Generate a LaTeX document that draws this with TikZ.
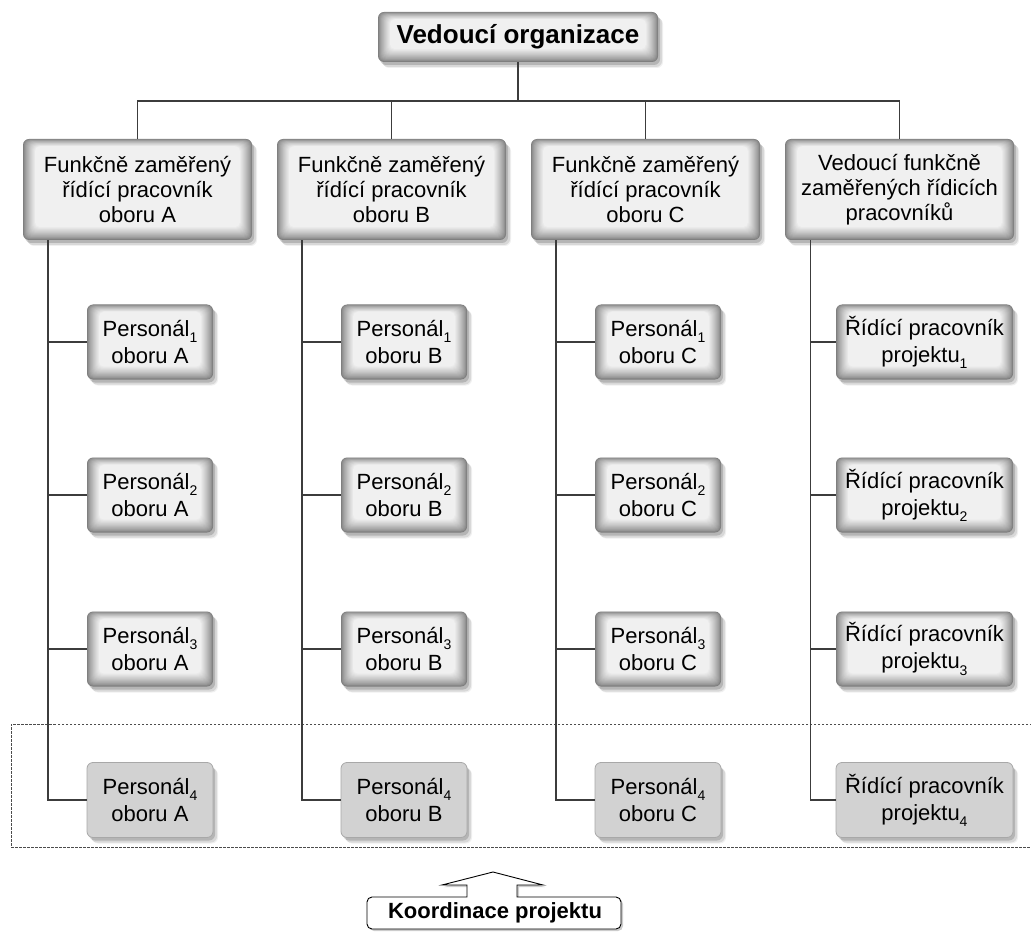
\documentclass[tikz,border=0pt]{standalone}
\usepackage{fontspec}
\setmainfont{Liberation Sans}
\usetikzlibrary{calc,shadows}

\definecolor{edgec}{HTML}{7E7E7E}
\definecolor{innerc}{HTML}{F0F0F0}
\definecolor{flatc}{HTML}{D2D2D2}
\definecolor{flatborder}{HTML}{A8A8A8}
\definecolor{linec}{HTML}{3C3C3C}

\newcommand\idx[1]{\raisebox{-0.28em}{\fontsize{14}{14}\selectfont #1}}

\tikzset{
  softshadow/.style={
    drop shadow={shadow xshift=2pt, shadow yshift=-3pt, opacity=0.16, fill=black},
    drop shadow={shadow xshift=4pt, shadow yshift=-5pt, opacity=0.10, fill=black},
    drop shadow={shadow xshift=5pt, shadow yshift=-6pt, opacity=0.06, fill=black}},
  bevel/.style={rounded corners=6pt, fill=edgec, inner sep=0pt, align=center,
    softshadow,
    path picture={
      \foreach \i in {1,...,16}{
        \pgfmathtruncatemacro\p{min(100,100*(\i/16)^0.75)}
        \fill[innerc!\p!edgec, rounded corners=5pt]
          ($(path picture bounding box.south west)+(\i*0.75pt,\i*0.8pt)$) rectangle
          ($(path picture bounding box.north east)+(-\i*0.75pt,-\i*0.45pt)$);
      }
    }},
  flat/.style={rounded corners=6pt, fill=flatc, draw=flatborder, line width=0.8pt,
    inner sep=0pt, align=center, softshadow},
  topbox/.style={bevel, minimum width=280pt, minimum height=50pt,
    font=\fontsize{26}{28}\bfseries\selectfont},
  headbox/.style={bevel, minimum width=229pt, minimum height=101pt,
    font=\fontsize{22}{25}\selectfont},
  staffbox/.style={minimum width=126pt, minimum height=75pt,
    font=\fontsize{22}{27}\selectfont},
  leadbox/.style={minimum width=177pt, minimum height=75pt,
    font=\fontsize{22}{27}\selectfont},
  link/.style={draw=linec, line width=1.2pt},
}

\begin{document}
\begin{tikzpicture}[x=1pt, y=-1pt]
\useasboundingbox (0,0) rectangle (1031,933);

% project coordination zone
\draw[draw=black!70, line width=1pt, dash pattern=on 2.5pt off 1.5pt]
  (1040,724) -- (11,724) -- (11,847) -- (1040,847);

% top management
\node[topbox] (top) at (518,37) {Vedoucí organizace};

% functional heads
\node[headbox] (ha) at (137.5,189.5) {Funkčně zaměřený\\řídící pracovník\\oboru A};
\node[headbox] (hb) at (391.5,189.5) {Funkčně zaměřený\\řídící pracovník\\oboru B};
\node[headbox] (hc) at (645.5,189.5) {Funkčně zaměřený\\řídící pracovník\\oboru C};
\node[headbox] (hd) at (899.5,189.5) {Vedoucí funkčně\\zaměřených řídicích\\pracovníků};

% staff of each field
\foreach \r/\y in {1/342,2/495,3/649}{
  \node[staffbox,bevel] (pa\r) at (150,\y) {Personál\idx{\r}\\oboru A};
  \node[staffbox,bevel] (pb\r) at (404,\y) {Personál\idx{\r}\\oboru B};
  \node[staffbox,bevel] (pc\r) at (658,\y) {Personál\idx{\r}\\oboru C};
  \node[leadbox,bevel] (pd\r) at (924.5,\y) {Řídící pracovník\\projektu\idx{\r}};
}
\node[staffbox,flat] (pa4) at (150,800) {Personál\idx{4}\\oboru A};
\node[staffbox,flat] (pb4) at (404,800) {Personál\idx{4}\\oboru B};
\node[staffbox,flat] (pc4) at (658,800) {Personál\idx{4}\\oboru C};
\node[leadbox,flat] (pd4) at (924.5,800) {Řídící pracovník\\projektu\idx{4}};

% connectors
\coordinate (bus) at (518,101);
\draw[link] (top.south) -- (bus);
\draw[link] (ha.north) |- (bus) -| (hd.north);
\draw[link] (hb.north) |- (bus);
\draw[link] (hc.north) |- (bus);

\coordinate (va) at (48,0);
\coordinate (vb) at (302,0);
\coordinate (vc) at (556,0);
\coordinate (vd) at (810.5,0);
\foreach \c in {a,b,c,d}{
  \draw[link] (v\c |- h\c.south) |- (p\c4.west);
  \foreach \r in {1,2,3}{
    \draw[link] (v\c |- p\c\r.west) -- (p\c\r.west);
  }
}

% coordination callout
\node[font=\fontsize{22}{24}\bfseries\selectfont, inner sep=0pt] (coord) at (495,913) {Koordinace projektu};
\draw[draw=black, line width=0.9pt, fill=white,
      drop shadow={shadow xshift=2pt, shadow yshift=-2pt, opacity=0.2, fill=black}]
  (467,897) -- (467,885) -- (442,885) -- (493,872) -- (543,885) -- (517,885) -- (517,897)
  [rounded corners=5pt] -- (621,897) -- (621,929) -- (367,929) -- (367,897) [sharp corners] -- cycle;
\node[font=\fontsize{22}{24}\bfseries\selectfont, inner sep=0pt] at (coord.center) {Koordinace projektu};
\end{tikzpicture}
\end{document}
